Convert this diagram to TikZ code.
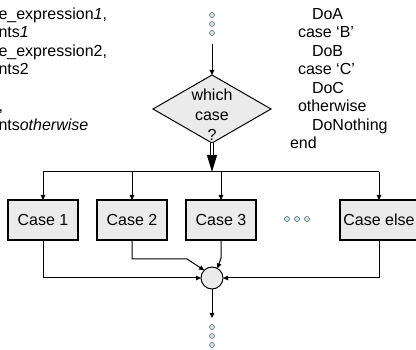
\documentclass[tikz,border=0pt]{standalone}
\usepackage{fontspec}
\setmainfont{Liberation Sans}
\usetikzlibrary{arrows.meta,shapes.geometric}
\definecolor{boxgray}{HTML}{EBEBEB}
\definecolor{dotfill}{HTML}{CDE6EC}
\definecolor{dotline}{HTML}{5A676C}
\begin{document}
\begin{tikzpicture}[x=1pt,y=-1pt,
  every node/.style={font=\fontsize{16}{18.5}\selectfont, inner sep=0pt, outer sep=0pt},
  txt/.style={anchor=base west},
  casebox/.style={draw=black, line width=1.2pt, fill=boxgray, minimum width=70pt, minimum height=40pt},
  dotnode/.style={circle, draw=dotline, fill=dotfill, line width=0.6pt, minimum size=5pt},
  conn/.style={line width=1pt},
  arr/.style={conn, -{Triangle[length=5pt,width=4.5pt]}},
  dblarr/.style={line width=0.9pt, double, double distance=2pt, -{Triangle[length=17pt,width=10pt]}}
]
\useasboundingbox (0,0) rectangle (416,350);

% left code text
\node[txt] (l1) at (-1.5,19.5) {e\_expression\textit{1},};
\node[txt] (l2) at (-1.5,38) {nts\textit{1}};
\node[txt] (l3) at (-1.5,56.5) {e\_expression2,};
\node[txt] (l4) at (-1.5,75) {nts2};
\node[txt] (l5) at (-1.5,112) {,};
\node[txt] (l6) at (-1.5,130.5) {nts\textit{otherwise}};

% right code text
\node[txt] (r1) at (312,19.5) {DoA};
\node[txt] (r2) at (298,38) {case ‘B’};
\node[txt] (r3) at (312,56.5) {DoB};
\node[txt] (r4) at (298,75) {case ‘C’};
\node[txt] (r5) at (312,93.5) {DoC};
\node[txt] (r6) at (298,112) {otherwise};
\node[txt] (r7) at (312,130.5) {DoNothing};
\node[txt] (r8) at (290,149) {end};

% top dots
\node[dotnode] (t1) at (212,15) {};
\node[dotnode] (t2) at (212,24) {};
\node[dotnode] (t3) at (212,33) {};
\coordinate (tin) at (212,44);

% decision diamond
\node[diamond, draw=black, line width=1pt, fill=boxgray, minimum width=118pt, minimum height=68pt] (dia) at (212,109) {};
\node[align=center, font=\fontsize{16}{20}\selectfont] (diatxt) at (212,115) {which\\case\\?};

\draw[arr] (tin) -- (dia.north);

% split line
\coordinate (split) at (212,172);
\coordinate (h1) at (43,172);
\coordinate (h4) at (379,172);
\draw[dblarr] (dia.south) -- (split);
\draw[conn] (h1) -- (h4);

% case boxes
\node[casebox] (c1) at (43,220) {Case 1};
\node[casebox] (c2) at (132,220) {Case 2};
\node[casebox] (c3) at (221,220) {Case 3};
\node[casebox, minimum width=78pt] (c4) at (379,220) {Case else};

\node[dotnode] (m1) at (287,219) {};
\node[dotnode] (m2) at (297,219) {};
\node[dotnode] (m3) at (307,219) {};

\draw[arr] (h1) -- (c1.north);
\draw[arr] (c2.north |- h1) -- (c2.north);
\draw[arr] (c3.north |- h1) -- (c3.north);
\draw[arr] (h4) -- (c4.north);

% merge circle
\node[circle, draw=black, line width=1pt, fill=boxgray, minimum size=22pt] (m) at (212,278) {};

\coordinate (k2a) at (132,259);
\coordinate (k2b) at (187,259);
\coordinate (k3a) at (221,258);
\draw[arr] (c1.south) |- (m.west);
\draw[arr] (c2.south) -- (k2a) -- (k2b) -- (m.135);
\draw[arr] (c3.south) -- (k3a) -- (m.60);
\draw[arr] (c4.south) |- (m.east);

% bottom
\coordinate (bout) at (212,318);
\draw[arr] (m.south) -- (bout);
\node[dotnode] (b1) at (212,327) {};
\node[dotnode] (b2) at (212,336) {};
\node[dotnode] (b3) at (212,345) {};
\end{tikzpicture}
\end{document}
